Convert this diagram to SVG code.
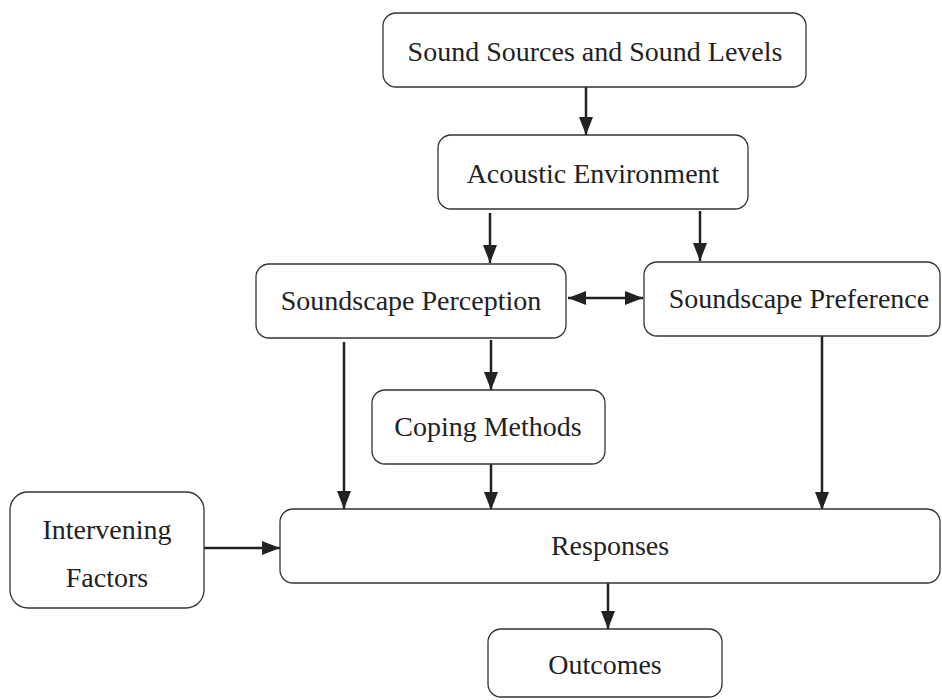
<svg xmlns="http://www.w3.org/2000/svg" width="942" height="700" viewBox="0 0 942 700">
<style>
.box{fill:#fff;stroke:#333;stroke-width:1.3}
.t{font-family:"Liberation Serif","Times New Roman",serif;font-size:28px;fill:#222;text-anchor:middle}
.c{stroke:#222;stroke-width:2.5;fill:none;marker-end:url(#ah)}
</style>
<defs>
<marker id="ah" markerUnits="userSpaceOnUse" markerWidth="18" markerHeight="14" refX="18" refY="7" orient="auto-start-reverse">
<path d="M0,0 L18,7 L0,14 z" fill="#222"/>
</marker>
</defs>
<rect width="942" height="700" fill="#fff"/>
<g id="connectors">
<line class="c" x1="586" y1="87" x2="586" y2="135"/>
<line class="c" x1="490" y1="213" x2="490" y2="263"/>
<line class="c" x1="700" y1="211" x2="700" y2="261"/>
<line class="c" x1="568" y1="298" x2="643" y2="298" style="marker-start:url(#ah)"/>
<line class="c" x1="344" y1="342" x2="344" y2="509"/>
<line class="c" x1="491" y1="340" x2="491" y2="390"/>
<line class="c" x1="491" y1="464" x2="491" y2="510"/>
<line class="c" x1="822" y1="336" x2="822" y2="510"/>
<line class="c" x1="204" y1="548" x2="280" y2="548"/>
<line class="c" x1="608" y1="583" x2="608" y2="629"/>
</g>
<g id="sound-sources">
<rect class="box" x="383" y="13" width="423" height="74" rx="13"/>
<text class="t" x="595" y="61">Sound Sources and Sound Levels</text>
</g>
<g id="acoustic-environment">
<rect class="box" x="438" y="135" width="310" height="74" rx="13"/>
<text class="t" x="593" y="183">Acoustic Environment</text>
</g>
<g id="soundscape-perception">
<rect class="box" x="256" y="264" width="310" height="74" rx="13"/>
<text class="t" x="411" y="310">Soundscape Perception</text>
</g>
<g id="soundscape-preference">
<rect class="box" x="644" y="262" width="296" height="74" rx="13"/>
<text class="t" x="799" y="308">Soundscape Preference</text>
</g>
<g id="coping-methods">
<rect class="box" x="372" y="390" width="233" height="74" rx="13"/>
<text class="t" x="488" y="436">Coping Methods</text>
</g>
<g id="intervening-factors">
<rect class="box" x="10" y="492" width="194" height="116" rx="18"/>
<text class="t" x="107" y="539">Intervening</text>
<text class="t" x="107" y="587">Factors</text>
</g>
<g id="responses">
<rect class="box" x="280" y="509" width="660" height="74" rx="13"/>
<text class="t" x="610" y="555">Responses</text>
</g>
<g id="outcomes">
<rect class="box" x="488" y="629" width="234" height="68" rx="13"/>
<text class="t" x="605" y="674">Outcomes</text>
</g>
</svg>
